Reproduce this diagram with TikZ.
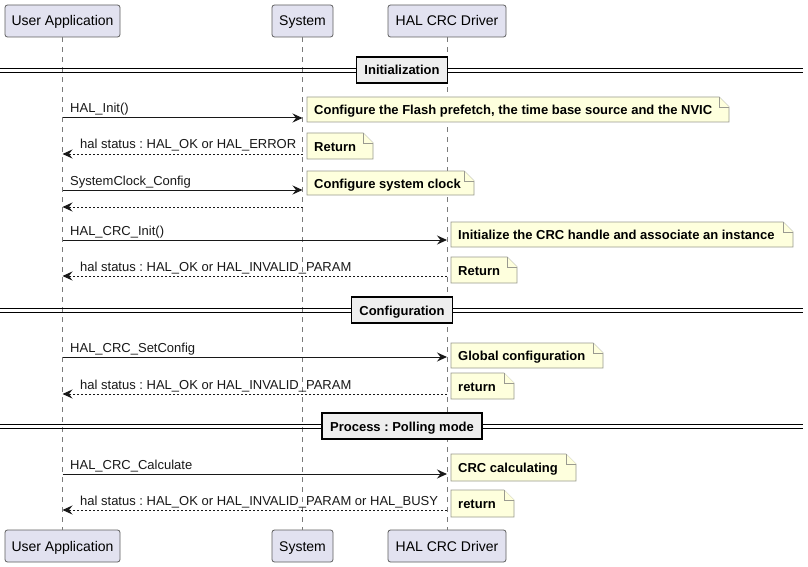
\documentclass[tikz,border=0pt]{standalone}
\usepackage{fontspec}
\setmainfont{Liberation Sans}
\usetikzlibrary{arrows.meta}
\frenchspacing
\definecolor{partfill}{HTML}{E2E2F0}
\definecolor{partdraw}{HTML}{5E5E5E}
\definecolor{lifecol}{HTML}{7A7A7A}
\definecolor{arrowcol}{HTML}{181818}
\definecolor{notefill}{HTML}{FEFFDD}
\definecolor{notedraw}{HTML}{9A9A90}
\definecolor{divfill}{HTML}{EEEEEE}
\newcommand\umlnote[6]{%
  \path[notebody] (#2,#3) -- ({#4-10},#3) -- (#4,{#3+10}) -- (#4,#5) -- (#2,#5) -- cycle;
  \path[notebody] ({#4-10},#3) -- ({#4-10},{#3+10}) -- (#4,{#3+10});
  \node[notelbl] (#1) at ({#2+7},{(#3+#5)/2+5}) {#6};
}
\begin{document}
\begin{tikzpicture}[x=1pt,y=-1pt,
  part/.style={draw=partdraw, fill=partfill, rounded corners=2.5pt, minimum height=32pt,
    inner sep=0pt, text height=11.5pt, text depth=1.5pt,
    font=\fontsize{14}{16}\selectfont, line width=0.8pt},
  life/.style={draw=lifecol, dash pattern=on 5pt off 5pt, line width=0.7pt},
  call/.style={draw=arrowcol, line width=1pt, -{Stealth[length=10pt,width=9pt,inset=3.5pt]}},
  ret/.style={call, dash pattern=on 2pt off 2pt},
  msglbl/.style={anchor=base west, inner sep=0pt, font=\fontsize{13}{15}\selectfont, text=arrowcol},
  notebody/.style={draw=notedraw, fill=notefill, line width=0.7pt, line join=miter},
  notelbl/.style={anchor=base west, inner sep=0pt, font=\bfseries\fontsize{13}{15}\selectfont},
  divbox/.style={draw=black, fill=divfill, line width=1.5pt, font=\bfseries\fontsize{13}{15}\selectfont,
    minimum height=26pt, inner xsep=8pt, inner ysep=0pt, text height=11pt, text depth=1pt},
  divline/.style={draw=black, line width=0.8pt}]
\useasboundingbox (0,0) rectangle (808,567);
\fill[white] (0,0) rectangle (808,567);

% participants
\node[part, minimum width=115pt] (uaT) at (62.5,21) {User Application};
\node[part, minimum width=61pt] (sysT) at (302.5,21) {System};
\node[part, minimum width=118pt] (halT) at (447,21) {HAL CRC Driver};
\node[part, minimum width=115pt] (uaB) at (62.5,546) {User Application};
\node[part, minimum width=61pt] (sysB) at (302.5,546) {System};
\node[part, minimum width=118pt] (halB) at (447,546) {HAL CRC Driver};

% lifelines
\draw[life] (uaT.south) -- (uaB.north);
\draw[life] (sysT.south) -- (sysB.north);
\draw[life] (halT.south) -- (halB.north);

% dividers
\foreach \yy/\nm/\txt in {70/d1/Initialization, 310/d2/Configuration, 426/d3/Process : Polling mode}{
  \draw[divline] (0,\yy-2) -- (803,\yy-2);
  \draw[divline] (0,\yy+2) -- (803,\yy+2);
  \node[divbox] (\nm) at (402,\yy) {\txt};
}

% messages
\coordinate (m1s) at (62.5,118); \coordinate (m1e) at (302.5,118);
\draw[call] (m1s) -- (m1e);
\node[msglbl] (l1) at (70,113) {HAL\_Init()};

\coordinate (m2s) at (302.5,154); \coordinate (m2e) at (62.5,154);
\draw[ret] (m2s) -- (m2e);
\node[msglbl] (l2) at (80,149) {hal status : HAL\_OK or HAL\_ERROR};

\coordinate (m3s) at (62.5,190); \coordinate (m3e) at (302.5,190);
\draw[call] (m3s) -- (m3e);
\node[msglbl] (l3) at (70,185) {SystemClock\_Config};

\coordinate (m4s) at (302.5,207); \coordinate (m4e) at (62.5,207);
\draw[ret] (m4s) -- (m4e);

\coordinate (m5s) at (62.5,240); \coordinate (m5e) at (447,240);
\draw[call] (m5s) -- (m5e);
\node[msglbl] (l5) at (70,235) {HAL\_CRC\_Init()};

\coordinate (m6s) at (447,276); \coordinate (m6e) at (62.5,276);
\draw[ret] (m6s) -- (m6e);
\node[msglbl] (l6) at (80,271) {hal status : HAL\_OK or HAL\_INVALID\_PARAM};

\coordinate (m7s) at (62.5,357); \coordinate (m7e) at (447,357);
\draw[call] (m7s) -- (m7e);
\node[msglbl] (l7) at (70,352) {HAL\_CRC\_SetConfig};

\coordinate (m8s) at (447,394); \coordinate (m8e) at (62.5,394);
\draw[ret] (m8s) -- (m8e);
\node[msglbl] (l8) at (80,389) {hal status : HAL\_OK or HAL\_INVALID\_PARAM};

\coordinate (m9s) at (62.5,474); \coordinate (m9e) at (447,474);
\draw[call] (m9s) -- (m9e);
\node[msglbl] (l9) at (70,469) {HAL\_CRC\_Calculate};

\coordinate (m10s) at (447,510); \coordinate (m10e) at (62.5,510);
\draw[ret] (m10s) -- (m10e);
\node[msglbl] (l10) at (80,505) {hal status : HAL\_OK or HAL\_INVALID\_PARAM or HAL\_BUSY};

% notes
\umlnote{n1}{307}{97}{729}{122}{Configure the Flash prefetch, the time base source and the NVIC}
\umlnote{n2}{307}{133}{373}{159}{Return}
\umlnote{n3}{307}{171}{474}{195}{Configure system clock}
\umlnote{n4}{451}{222}{793}{247}{Initialize the CRC handle and associate an instance}
\umlnote{n5}{451}{257}{517}{283}{Return}
\umlnote{n6}{451}{343}{603}{368}{Global configuration}
\umlnote{n7}{451}{373}{514}{399}{return}
\umlnote{n8}{451}{454}{576}{481}{CRC calculating}
\umlnote{n9}{451}{490}{514}{517}{return}
\end{tikzpicture}
\end{document}
